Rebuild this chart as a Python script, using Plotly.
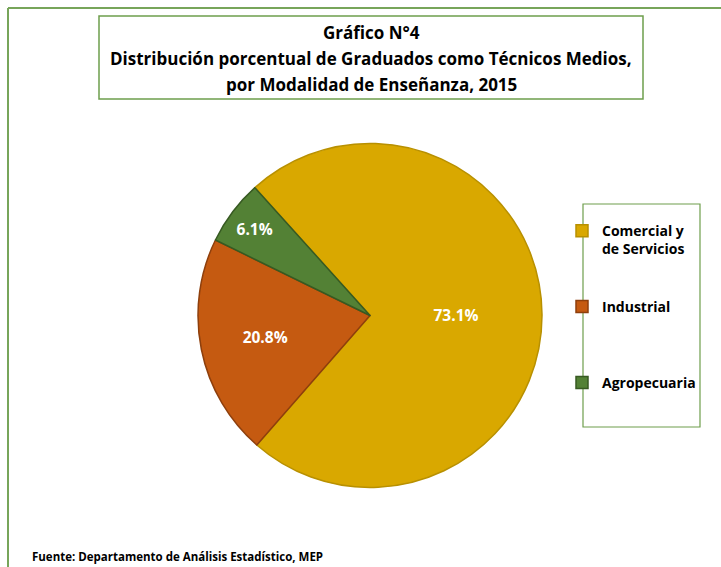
import plotly.graph_objects as go

# ---- data ----
labels = ["Comercial y<br>de Servicios", "Industrial", "Agropecuaria"]
values = [73.1, 20.8, 6.1]
slice_colors = ["#D9A800", "#C55A11", "#538135"]
edge_colors = ["#B89000", "#8E3F0C", "#375A22"]
title_lines = [
    "Gráfico N°4",
    "Distribución porcentual de Graduados como Técnicos Medios,",
    "por Modalidad de Enseñanza, 2015",
]
source_text = "Fuente: Departamento de Análisis Estadístico, MEP"

W, H = 721, 567
FONT = "Open Sans"
GREEN = "#77A55A"

# legend entries: blank lines added so each entry is spaced like the original legend box
pad = [(" <br>", ""), (" <br> <br>", "<br> <br> "), (" <br>", "<br> ")]
legend_names = [p[0] + lab + p[1] for p, lab in zip(pad, labels)]

fig = go.Figure()
fig.add_trace(go.Pie(
    labels=legend_names,
    values=values,
    sort=False,
    direction="clockwise",
    rotation=-42,
    marker=dict(colors=slice_colors, line=dict(color=edge_colors, width=1.5)),
    texttemplate="%{value:.1f}%",
    textposition="inside",
    insidetextorientation="horizontal",
    textfont=dict(family=FONT, size=15.5, color="white", weight="bold"),
    hovertemplate="%{value:.1f}%<extra></extra>",
    domain=dict(x=[(370 - 172) / W, (370 + 172) / W],
                y=[(H - 315.5 - 172) / H, (H - 315.5 + 172) / H]),
))

annotations = []
title_y = [33, 58, 84]
for line, yy in zip(title_lines, title_y):
    annotations.append(dict(
        text=f"<b>{line}</b>", x=371 / W, y=1 - yy / H, xref="paper", yref="paper",
        xanchor="center", yanchor="middle", showarrow=False,
        font=dict(family=FONT, size=17, color="black"),
    ))
annotations.append(dict(
    text=f"<b>{source_text}</b>", x=30 / W, y=1 - 556 / H, xref="paper", yref="paper",
    xanchor="left", yanchor="middle", showarrow=False,
    font=dict(family=FONT, size=11.5, color="black"),
))

shapes = [
    # outer chart border (top and left visible)
    dict(type="line", xref="paper", yref="paper", x0=8 / W, x1=1.0, y0=1 - 8 / H, y1=1 - 8 / H,
         line=dict(color=GREEN, width=2)),
    dict(type="line", xref="paper", yref="paper", x0=8 / W, x1=8 / W, y0=1 - 8 / H, y1=0,
         line=dict(color=GREEN, width=2)),
    # title box
    dict(type="rect", xref="paper", yref="paper", x0=99 / W, x1=643 / W, y0=1 - 16 / H, y1=1 - 99 / H,
         line=dict(color="#6E9E4C", width=1.5)),
    # legend box
    dict(type="rect", xref="paper", yref="paper", x0=583 / W, x1=700 / W, y0=1 - 204 / H, y1=1 - 427 / H,
         line=dict(color="#6E9E4C", width=1.2)),
]

fig.update_layout(
    width=W, height=H,
    margin=dict(l=0, r=0, t=0, b=0),
    paper_bgcolor="white", plot_bgcolor="white",
    showlegend=True,
    legend=dict(
        x=562 / W, y=1 - 197 / H, xanchor="left", yanchor="top",
        font=dict(family=FONT, size=14, color="black", weight="bold"),
        bgcolor="rgba(0,0,0,0)", borderwidth=0,
        itemclick=False,
    ),
    annotations=annotations,
    shapes=shapes,
)

fig.write_html(
    "out.html",
    config={"displayModeBar": False},
    post_script="document.body.style.margin='0';document.body.style.overflow='hidden';",
)
